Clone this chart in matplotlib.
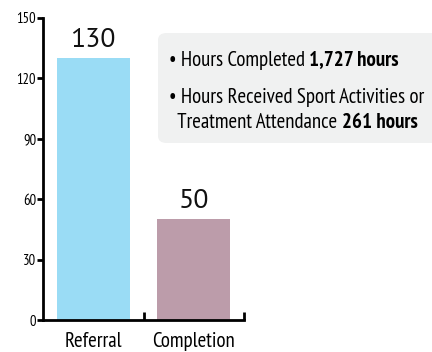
import matplotlib
matplotlib.use('Agg')
import matplotlib.pyplot as plt
from matplotlib.patches import FancyBboxPatch

categories = ['Referral', 'Completion']
values = [130, 50]
colors = ['#9adcf5', '#bc9caa']
y_ticks = [0, 30, 60, 90, 120, 150]

# (regular part, bold part) for each line of the note box
note_lines = [
    ('\u2022 Hours Completed ', '1,727 hours'),
    ('\u2022 Hours Received Sport Activities or', ''),
    ('  Treatment Attendance ', '261 hours'),
]
note_y = [60, 97, 123]

plt.rcParams['font.family'] = ['PT Sans Narrow', 'DejaVu Sans']

W, H = 432, 352
fig = plt.figure(figsize=(W / 100, H / 100), dpi=100)
ax = fig.add_axes([43 / W, (H - 320) / H, (244 - 43) / W, 302 / H])

x = range(len(categories))
bars = ax.bar(x, values, width=0.73, color=colors)
for b, v in zip(bars, values):
    ax.text(b.get_x() + b.get_width() / 2, v + 3, str(v), ha='center', va='bottom',
            fontsize=20, color='#111111', family=['PT Sans', 'DejaVu Sans'])

ax.set_xlim(-0.5, 1.5)
ax.set_ylim(0, 150)
ax.set_yticks(y_ticks)
ax.tick_params(axis='y', labelsize=10.5, length=4, width=2, pad=1, direction='out')
ax.set_xticks([])
for s in ['top', 'right']:
    ax.spines[s].set_visible(False)
for s in ['left', 'bottom']:
    ax.spines[s].set_linewidth(2)

# small upward ticks at category boundaries on the x axis
for xb in [0.5, 1.5]:
    ax.plot([xb, xb], [0, 4], color='black', lw=2, clip_on=False, solid_capstyle='butt')

for i, c in enumerate(categories):
    ax.text(i, -6, c, ha='center', va='top', fontsize=15)

# note box
box = FancyBboxPatch((158 / W, (H - 143) / H), 290 / W, 110 / H,
                     boxstyle='round,pad=0,rounding_size=0.02',
                     transform=fig.transFigure, facecolor='#f0f1f1', edgecolor='none')
fig.patches.append(box)

fig.canvas.draw()
renderer = fig.canvas.get_renderer()
for (reg, bold), yy in zip(note_lines, note_y):
    t = fig.text(169 / W, 1 - yy / H, reg, fontsize=15, va='center', ha='left')
    if bold:
        ext = t.get_window_extent(renderer)
        fig.text(ext.x1 / W, 1 - yy / H, bold, fontsize=15, va='center',
                 ha='left', fontweight='bold')

fig.savefig('out.png', dpi=100)
